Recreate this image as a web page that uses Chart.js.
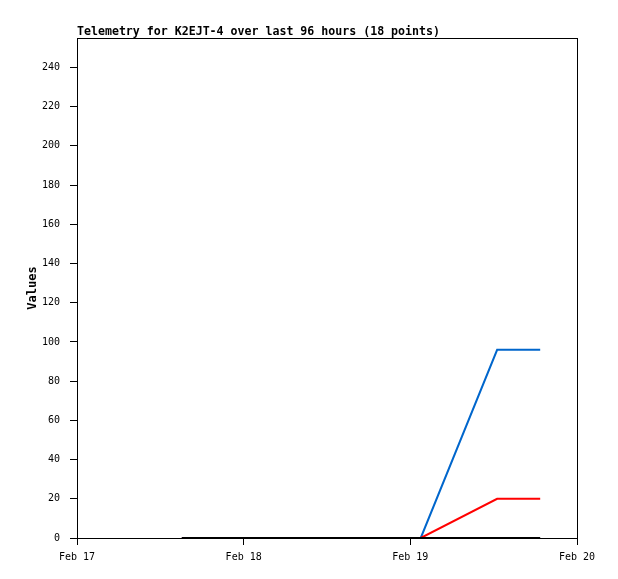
<!DOCTYPE html>
<html><head><meta charset="utf-8">
<script src="https://cdn.jsdelivr.net/npm/chart.js@4/dist/chart.umd.min.js"></script>
<style>html,body{margin:0;padding:0;background:#fff}#wrap{width:618px;height:579px}</style>
</head><body><div id="wrap"><canvas id="c" width="618" height="579"></canvas></div>
<script>
// hours since Feb 17 00:00
const hours = [15.1, 18, 21, 24.5, 27, 30, 33, 36, 38.5, 41, 43.5, 46, 48, 49.5, 60.5, 62, 64, 66.7];
const seriesBlack = [0,0,0,0,0,0,0,0,0,0,0,0,0,0,0,0,0,0];
const seriesBlue  = [0,0,0,0,0,0,0,0,0,0,0,0,0,0,96,96,96,96];
const seriesRed   = [0,0,0,0,0,0,0,0,0,0,0,0,0,0,20,20,20,20];
const xTickLabels = ['Feb 17','Feb 18','Feb 19','Feb 20'];
const titleText = 'Telemetry for K2EJT-4 over last 96 hours (18 points)';

const pts = arr => arr.map((v,i)=>({x:hours[i], y:v}));
const mono = '"DejaVu Sans Mono", "Liberation Mono", monospace';

const boxAndTitle = {
  id:'boxAndTitle',
  afterDraw(chart){
    const {ctx, chartArea:a} = chart;
    ctx.save();
    ctx.strokeStyle = '#000'; ctx.lineWidth = 1;
    ctx.strokeRect(a.left+0.5, a.top+0.5, a.right-a.left, a.bottom-a.top);
    ctx.fillStyle = '#000';
    ctx.font = 'bold 11.6px ' + mono;
    ctx.textBaseline = 'alphabetic'; ctx.textAlign = 'left';
    ctx.fillText(titleText, a.left, a.top - 3);
    ctx.restore();
  }
};

new Chart(document.getElementById('c'), {
  type:'line',
  data:{datasets:[
    {data:pts(seriesBlue), borderColor:'#0066cc', borderWidth:2, pointRadius:0, tension:0, order:3},
    {data:pts(seriesRed), borderColor:'#ff0000', borderWidth:2, pointRadius:0, tension:0, order:2},
    {data:pts(seriesBlack), borderColor:'#000000', borderWidth:2, pointRadius:0, tension:0, order:1}
  ]},
  options:{
    responsive:false, animation:false,
    layout:{padding:{left:0, top:38, right:41, bottom:0}},
    plugins:{legend:{display:false}, tooltip:{enabled:false}, title:{display:false}},
    scales:{
      x:{type:'linear', min:0, max:72,
        afterBuildTicks(s){ s.ticks = [0,24,48,72].map(v=>({value:v})); },
        afterFit(s){ s.height = 41; },
        grid:{display:true, drawOnChartArea:false, drawTicks:true, tickLength:7, color:'#000'},
        border:{display:true, color:'#000'},
        ticks:{color:'#000', padding:6, maxRotation:0, font:{family:mono, size:10},
          callback:(v)=>xTickLabels[Math.round(v/24)]}
      },
      y:{type:'linear', min:0, max:255,
        afterBuildTicks(s){ s.ticks = s.ticks.filter(t=>t.value%20===0); },
        afterFit(s){ s.width = 77; },
        grid:{display:true, drawOnChartArea:false, drawTicks:true, tickLength:7, color:'#000'},
        border:{display:true, color:'#000'},
        ticks:{color:'#000', stepSize:20, padding:10, font:{family:mono, size:10}},
        title:{display:true, text:'Values', color:'#000', font:{family:mono, size:12, weight:'bold'}, padding:{top:26, bottom:0}}
      }
    }
  },
  plugins:[boxAndTitle]
});
</script></body></html>
